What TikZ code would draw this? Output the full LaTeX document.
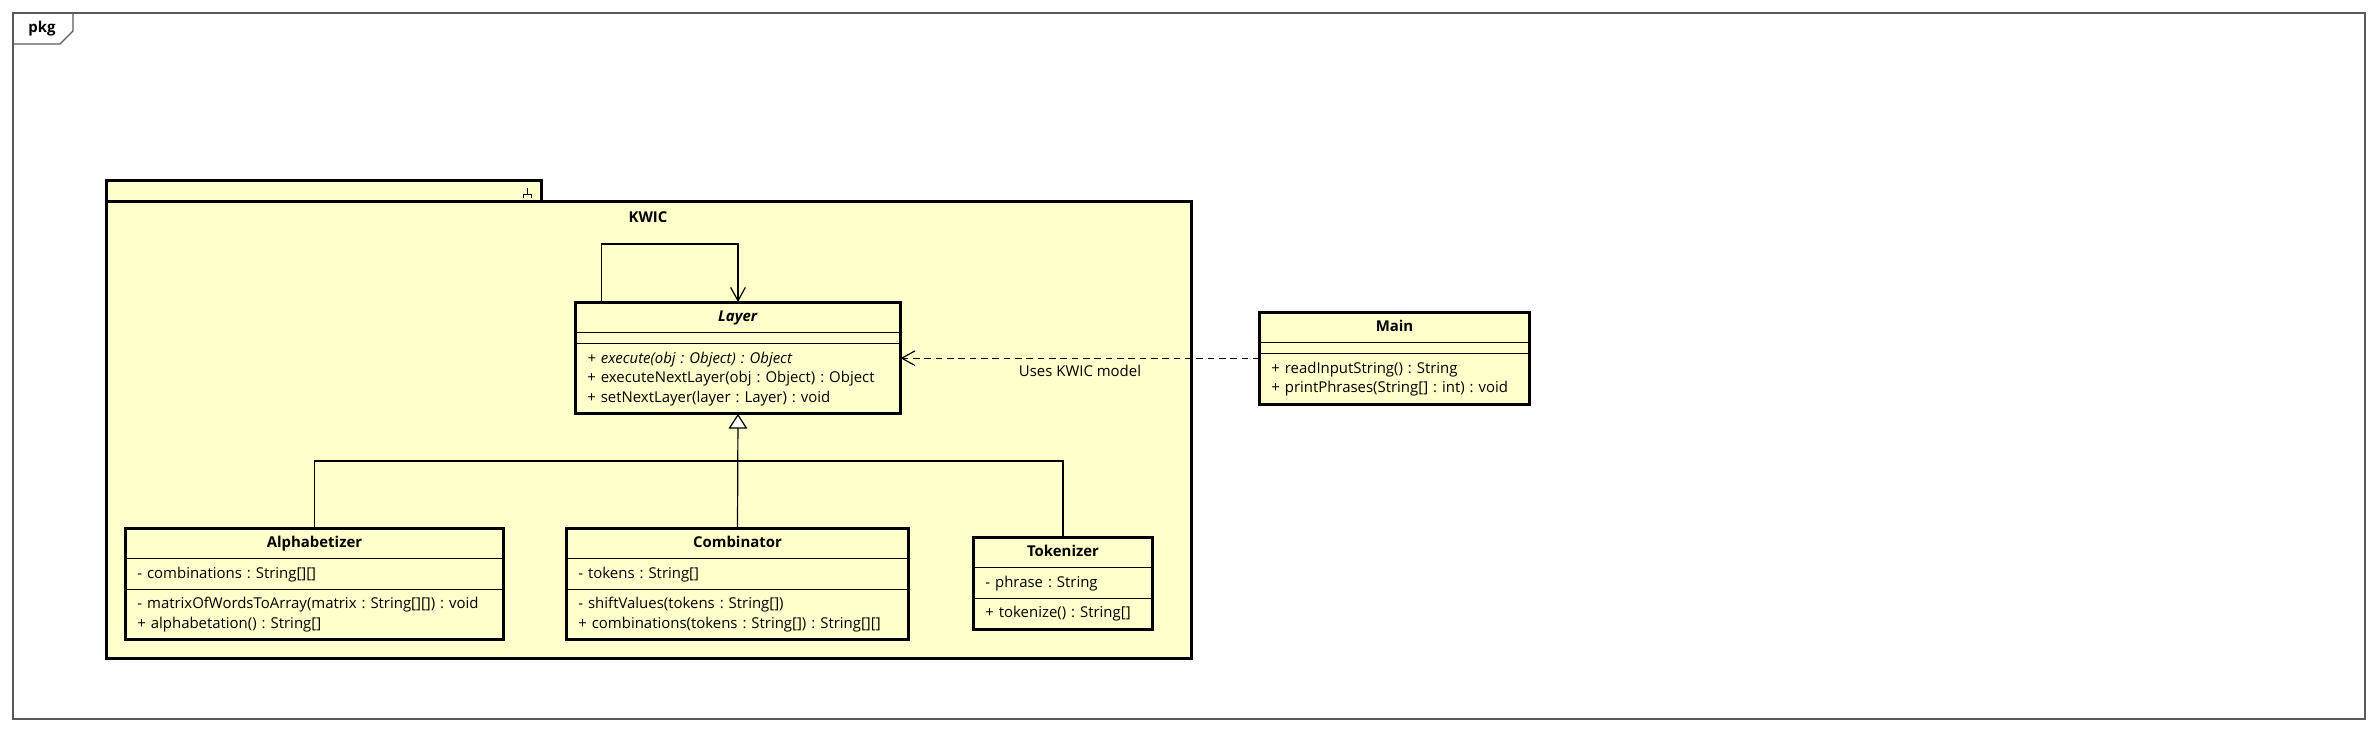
\documentclass[tikz,border=0pt]{standalone}
\usepackage{fontspec}
\setmainfont{Open Sans}
\usetikzlibrary{shapes.multipart,arrows.meta}
\definecolor{umlyellow}{RGB}{255,255,204}
\definecolor{framegray}{RGB}{90,90,90}
\newcommand\classtitle[1]{\hbox to\hsize{\hfil\strut#1\hfil}}

\tikzset{
  umlclass/.style={rectangle split, rectangle split parts=3, draw, fill=umlyellow,
    line width=0.75pt, inner xsep=8.5pt, inner ysep=3.75pt, align=left, anchor=north,
    font=\fontsize{11.2}{14.6}\selectfont\frenchspacing},
  assoc/.style={line width=0.9pt, -{Straight Barb[length=10pt,width=11pt]}},
  depend/.style={assoc, dash pattern=on 5pt off 3.5pt},
  inherit/.style={line width=0.9pt, -{Triangle[open,fill=white,length=11pt,width=14pt]}},
}

\begin{document}
\begin{tikzpicture}
  [x=0.75pt,y=-0.75pt,every node/.style={font=\fontsize{11.2}{14}\selectfont\frenchspacing}]
  \useasboundingbox[fill=white] (0,0) rectangle (2377,732);

  % frame
  \draw[framegray,line width=0.9pt] (13,13) rectangle (2365,719);
  \draw[framegray,line width=0.9pt] (13,44) -- (60,44) -- (73,31) -- (73,13);
  \node (pkg) at (42,29) {\textbf{pkg}};

  % package KWIC
  \draw[line width=2.25pt,fill=umlyellow] (106,180) rectangle (541,201);
  \draw[line width=2.25pt,fill=umlyellow] (106,201) rectangle (1191,658);
  \draw[line width=0.6pt] (527,188) -- (527,194) (523,197.5) -- (523,194) -- (531,194) -- (531,197.5);
  \node (kwic) at (648,217) {\textbf{KWIC}};

  % classes
  \node[umlclass, text width=226pt] (layer) at (738,302)
    {\classtitle{\textbf{\textit{Layer}}}
     \nodepart{two}
     \nodepart{three}\strut\textit{+ execute(obj : Object) : Object}\\
     \strut+ executeNextLayer(obj : Object) : Object\\
     \strut+ setNextLayer(layer : Layer) : void};
  \node[umlclass, text width=184.75pt] (main) at (1394.5,312)
    {\classtitle{\textbf{Main}}
     \nodepart{two}
     \nodepart{three}\strut+ readInputString() : String\\
     \strut+ printPhrases(String[] : int) : void};
  \node[umlclass, text width=265.75pt] (alpha) at (314.5,528)
    {\classtitle{\textbf{Alphabetizer}}
     \nodepart{two}\strut- combinations : String[][]
     \nodepart{three}\strut- matrixOfWordsToArray(matrix : String[][]) : void\\
     \strut+ alphabetation() : String[]};
  \node[umlclass, text width=238.75pt] (comb) at (737.5,528)
    {\classtitle{\textbf{Combinator}}
     \nodepart{two}\strut- tokens : String[]
     \nodepart{three}\strut- shiftValues(tokens : String[])\\
     \strut+ combinations(tokens : String[]) : String[][]};
  \node[umlclass, text width=116.5pt] (tok) at (1063,537)
    {\classtitle{\textbf{Tokenizer}}
     \nodepart{two}\strut- phrase : String
     \nodepart{three}\strut+ tokenize() : String[]};

  \foreach \c in {layer,main,alpha,comb,tok}
    \draw[line width=2.25pt] (\c.north west) rectangle (\c.south east);

  % connectors
  \draw[assoc] ([xshift=19.5pt]layer.north west) -- ++(0,-58) -| (layer.north);
  \draw[depend] (main.west) -- (main.west -| layer.east)
    node[midway,below,inner sep=4.5pt] (uses) {Uses KWIC model};
  \coordinate (fork) at (737.5,461);
  \draw[line width=0.9pt] (alpha.north) |- (fork) -| (tok.north);
  \draw[inherit] (comb.north) -- (layer.south);
\end{tikzpicture}
\end{document}
